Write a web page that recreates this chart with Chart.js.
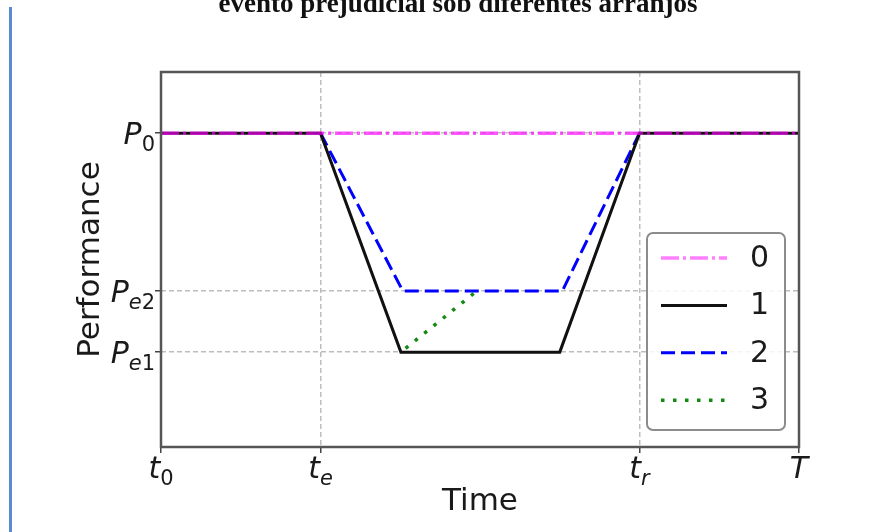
<!DOCTYPE html>
<html lang="pt">
<head>
<meta charset="UTF-8">
<title>Desempenho sob evento prejudicial</title>
<style>
  body { margin: 0; background: #fff; }
  .wrap { position: relative; width: 893px; height: 532px; overflow: hidden; }
  .side { position: absolute; left: 9px; top: 7px; width: 3px; height: 525px; background: #5b8bcf; }
  .title {
    position: absolute; left: 0; top: -10px; width: 916px;
    text-align: center; white-space: nowrap; color: #111;
    font: bold 27px 'Liberation Serif', serif; line-height: 27px;
  }
  canvas { position: absolute; left: 0; top: 0; }
</style>
</head>
<body>
<div class="wrap">
  <canvas id="perf" width="893" height="532"></canvas>
  <div class="side"></div>
  <div class="title">evento prejudicial sob diferentes arranjos</div>
</div>

<script src="https://cdn.jsdelivr.net/npm/chart.js"></script>
<script>
// performance levels (axis runs 0..1)
const P0 = 0.837;
const Pe2 = 0.416;
const Pe1 = 0.253;

// time ticks: t0, te, tr, T
const xTicks = [0, 0.25, 0.75, 1];
const xTickLabels = ['t_0', 't_e', 't_r', 'T'];
const yTicks = [Pe1, Pe2, P0];
const yTickLabels = ['P_e1', 'P_e2', 'P_0'];

const seriesNames = ['0', '1', '2', '3'];

// series 0: no disruption
const s0x = [0, 1];
const s0y = [P0, P0];
// series 1: deep drop
const s1x = [0, 0.25, 0.376, 0.625, 0.75, 1];
const s1y = [P0, P0, Pe1, Pe1, P0, P0];
// series 2: shallow drop
const s2x = [0.25, 0.379, 0.629, 0.75];
const s2y = [P0, Pe2, Pe2, P0];
// series 3: partial recovery
const s3x = [0.376, 0.495];
const s3y = [Pe1, Pe2];

const toPoints = (xs, ys) => xs.map((x, i) => ({ x: x, y: ys[i] }));

const textColor = '#1a1a1a';

// italic main letter + subscript, like t_0 or P_e2
function drawMath(ctx, label, x, y, align) {
    const parts = label.split('_');
    const main = parts[0];
    const sub = parts[1] || '';
    ctx.font = 'italic 30px "DejaVu Sans"';
    let w = ctx.measureText(main).width;
    const subFonts = [];
    for (const ch of sub) {
        const f = /[0-9]/.test(ch) ? '21px "DejaVu Sans"' : 'italic 21px "DejaVu Sans"';
        ctx.font = f;
        subFonts.push([ch, f, ctx.measureText(ch).width]);
        w += ctx.measureText(ch).width;
    }
    let sx = align === 'right' ? x - w : x - w / 2;
    ctx.textAlign = 'left';
    ctx.textBaseline = 'alphabetic';
    ctx.fillStyle = textColor;
    ctx.font = 'italic 30px "DejaVu Sans"';
    ctx.fillText(main, sx, y);
    sx += ctx.measureText(main).width;
    subFonts.forEach(([ch, f, cw]) => {
        ctx.font = f;
        ctx.fillText(ch, sx, y + 7);
        sx += cw;
    });
}

const framePlugin = {
    id: 'frame',
    afterDatasetsDraw(chart) {
        const { ctx, chartArea: a } = chart;
        ctx.save();
        ctx.strokeStyle = '#555';
        ctx.lineWidth = 2.5;
        ctx.strokeRect(a.left, a.top, a.right - a.left, a.bottom - a.top);
        ctx.restore();
    }
};

const labelPlugin = {
    id: 'labels',
    afterDraw(chart) {
        const { ctx, chartArea: a } = chart;
        const xs = chart.scales.x, ys = chart.scales.y;
        ctx.save();
        xTicks.forEach((v, i) => drawMath(ctx, xTickLabels[i], xs.getPixelForValue(v), 478, 'center'));
        yTicks.forEach((v, i) => drawMath(ctx, yTickLabels[i], 155, ys.getPixelForValue(v) + 11, 'right'));

        ctx.fillStyle = textColor;
        ctx.font = '31px "DejaVu Sans"';
        ctx.textAlign = 'center';
        ctx.textBaseline = 'alphabetic';
        ctx.fillText('Time', (a.left + a.right) / 2, 510);
        ctx.translate(99, (a.top + a.bottom) / 2);
        ctx.rotate(-Math.PI / 2);
        ctx.fillText('Performance', 0, 0);
        ctx.restore();
    }
};

const legendPlugin = {
    id: 'boxLegend',
    afterDraw(chart) {
        const { ctx } = chart;
        const box = { x: 647, y: 233, w: 138, h: 197, r: 6 };
        ctx.save();
        ctx.beginPath();
        ctx.roundRect(box.x, box.y, box.w, box.h, box.r);
        ctx.fillStyle = 'rgba(255,255,255,0.85)';
        ctx.fill();
        ctx.strokeStyle = '#8c8c8c';
        ctx.lineWidth = 2;
        ctx.stroke();

        chart.data.datasets.forEach((ds, i) => {
            const y = 258 + i * 47.4;
            ctx.beginPath();
            ctx.setLineDash(ds.borderDash || []);
            ctx.strokeStyle = i === 0 ? 'rgba(255,0,255,0.5)' : ds.borderColor;
            ctx.lineWidth = ds.borderWidth;
            ctx.moveTo(661, y);
            ctx.lineTo(727, y);
            ctx.stroke();
            ctx.setLineDash([]);
            ctx.fillStyle = textColor;
            ctx.font = '30px "DejaVu Sans"';
            ctx.textAlign = 'left';
            ctx.textBaseline = 'middle';
            ctx.fillText(ds.label, 750, y + 1);
        });
        ctx.restore();
    }
};

const gridOpts = {
    color: '#bdbdbd',
    lineWidth: 1.5,
    tickLength: 6,
    tickColor: '#444',
    tickWidth: 1.5
};

new Chart(document.getElementById('perf'), {
    type: 'line',
    data: {
        datasets: [
            { label: seriesNames[0], data: toPoints(s0x, s0y), borderColor: 'rgba(255,0,255,0.65)', borderWidth: 3.5, borderDash: [18, 4, 3, 4] },
            { label: seriesNames[1], data: toPoints(s1x, s1y), borderColor: '#111', borderWidth: 3 },
            { label: seriesNames[2], data: toPoints(s2x, s2y), borderColor: '#0000ff', borderWidth: 3, borderDash: [14, 6] },
            { label: seriesNames[3], data: toPoints(s3x, s3y), borderColor: '#148a14', borderWidth: 3.5, borderDash: [3.5, 8.5], borderDashOffset: -6 }
        ]
    },
    options: {
        responsive: false,
        animation: false,
        devicePixelRatio: 1,
        layout: { autoPadding: false, padding: { top: 72, right: 94, left: 0, bottom: 0 } },
        elements: { point: { radius: 0 }, line: { tension: 0 } },
        plugins: { legend: { display: false }, tooltip: { enabled: false } },
        scales: {
            x: {
                type: 'linear', min: 0, max: 1,
                afterBuildTicks: s => { s.ticks = xTicks.map(v => ({ value: v })); },
                afterFit: s => { s.height = 85; },
                ticks: { display: false },
                grid: gridOpts,
                border: { display: false, dash: [5, 3] }
            },
            y: {
                type: 'linear', min: 0, max: 1,
                afterBuildTicks: s => { s.ticks = yTicks.map(v => ({ value: v })); },
                afterFit: s => { s.width = 161; },
                ticks: { display: false },
                grid: gridOpts,
                border: { display: false, dash: [5, 3] }
            }
        }
    },
    plugins: [framePlugin, labelPlugin, legendPlugin]
});
</script>
</body>
</html>
